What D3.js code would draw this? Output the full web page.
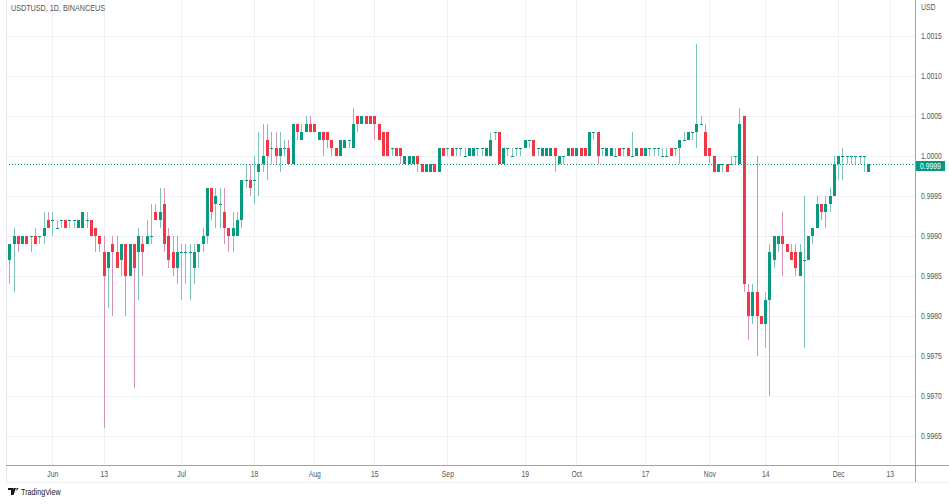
<!DOCTYPE html>
<html><head><meta charset="utf-8">
<script src="https://cdn.jsdelivr.net/npm/d3@7"></script>
<style>
html,body{margin:0;padding:0;background:#fff;}
svg{display:block;}
text{font-family:"Liberation Sans","Arial",sans-serif;}
</style></head>
<body>
<svg id="c" width="949" height="504"></svg>
<script>
// ---------- DATA ----------
const title = "USDTUSD, 1D, BINANCEUS";
const currency = "USD";
const startDate = "2022-05-22"; // first daily candle
const open = [
.9987,.9989,.9990,.9989,.9990,.9990,.9990,.9990,.9990,.9992,
.9992,.9991,.9992,.9992,.9992,.9992,.9991,.9991,.9992,.9992,
.9991,.9990,.9988,.9986,.9989,.9988,.9987,.9989,.9985,.9989,
.9988,.9989,.9989,.9990,.9993,.9992,.9994,.9990,.9988,.9986,
.9988,.9988,.9988,.9986,.9988,.9989,.9990,.9996,.9994,.9994,
.9993,.9991,.9990,.9990,.9992,.9997,.9997,.9997,.9998,.9999,
1.0002,1.0001,1.0001,1.0000,1.0001,1.0001,.9999,1.0004,1.0002,1.0003,
1.0004,1.0004,1.0002,1.0003,1.0003,1.0002,1.0001,1.0000,1.0001,1.0002,
1.0001,1.0005,1.0004,1.0005,1.0005,1.0005,1.0004,1.0003,1.0003,1.0001,
1.0001,1.0001,.9999,.9999,.9999,1.0000,.9999,.9998,.9998,.9999,
.9998,1.0001,1.0001,1.0001,1.0001,1.0001,1.0000,1.0000,1.0000,1.0001,
1.0001,1.0000,1.0000,1.0003,1.0003,.9999,1.0001,1.0000,1.0001,1.0001,
1.0001,1.0002,1.0002,1.0001,1.0000,1.0000,1.0000,1.0001,.9999,1.0000,
1.0000,1.0001,1.0000,1.0001,1.0001,1.0000,1.0003,1.0003,1.0001,1.0000,
1.0000,1.0000,1.0001,1.0001,1.0001,1.0000,1.0000,1.0001,1.0000,1.0001,
1.0001,1.0001,1.0000,1.0000,1.0001,1.0001,1.0001,1.0002,1.0002,1.0003,
1.0003,1.0004,1.0003,1.0001,1.0000,.9998,.9999,.9999,.9999,1.0000,
.9999,1.0005,.9983,.9980,.9983,.9980,.9979,.9982,.9987,.9989,
.9990,.9989,.9988,.9988,.9985,.9987,.9987,.9990,.9991,.9994,
.9993,.9994,.9995,.9999,1.0000,1.0000,1.0000,1.0000,1.0000,1.0000,.9998];
const high = [
.9989,.9991,.9990,.9990,.9990,.9990,.9991,.9990,.9993,.9993,
.9993,.9992,.9992,.9992,.9992,.9992,.9992,.9993,.9993,.9992,
.9991,.9990,.9990,.9988,.9990,.9990,.9989,.9989,.9989,.9989,
.9991,.9990,.9992,.9994,.9994,.9996,.9996,.9991,.9990,.9990,
.9989,.9989,.9989,.9989,.9989,.9991,.9996,.9996,.9996,.9996,
.9996,.9991,.9993,.9993,.9997,.9999,.9999,1.0000,1.0003,1.0004,
1.0004,1.0003,1.0003,1.0003,1.0002,1.0002,1.0004,1.0004,1.0004,1.0005,
1.0005,1.0004,1.0003,1.0003,1.0003,1.0002,1.0001,1.0002,1.0002,1.0002,
1.0006,1.0005,1.0005,1.0005,1.0005,1.0005,1.0004,1.0003,1.0003,1.0001,
1.0001,1.0001,1.0000,1.0000,1.0000,1.0000,.9999,.9999,.9999,.9999,
1.0001,1.0001,1.0001,1.0001,1.0001,1.0001,1.0001,1.0001,1.0001,1.0001,
1.0001,1.0001,1.0003,1.0003,1.0003,1.0001,1.0001,1.0001,1.0001,1.0001,
1.0002,1.0002,1.0002,1.0001,1.0001,1.0001,1.0001,1.0001,1.0000,1.0000,
1.0001,1.0001,1.0001,1.0001,1.0001,1.0003,1.0003,1.0003,1.0001,1.0001,
1.0001,1.0001,1.0001,1.0001,1.0001,1.0003,1.0001,1.0001,1.0001,1.0001,
1.0001,1.0001,1.0001,1.0001,1.0001,1.0001,1.0002,1.0003,1.0003,1.0003,
1.0014,1.0005,1.0004,1.0001,1.0000,.9999,.9999,.9999,1.0000,1.0000,
1.0006,1.0005,.9984,.9984,1.0000,.9980,.9983,.9989,.9990,.9990,
.9993,.9989,.9989,.9989,.9989,.9995,.9990,.9991,.9995,.9994,
.9995,.9996,1.0000,1.0000,1.0001,1.0000,1.0000,1.0000,1.0000,1.0000,.9999];
const low = [
.9984,.9983,.9988,.9989,.9989,.9988,.9989,.9989,.9989,.9991,
.9990,.9991,.9991,.9991,.9991,.9991,.9991,.9991,.9991,.9990,
.9988,.9988,.9966,.9981,.9980,.9986,.9985,.9980,.9985,.9971,
.9982,.9985,.9989,.9989,.9992,.9991,.9988,.9986,.9985,.9984,
.9982,.9984,.9982,.9984,.9986,.9988,.9989,.9992,.9991,.9991,
.9989,.9988,.9988,.9990,.9991,.9996,.9995,.9994,.9995,.9998,
.9997,.9999,.9999,.9998,1.0000,.9999,.9999,1.0002,1.0002,1.0003,
1.0003,1.0003,1.0002,1.0000,1.0001,1.0000,1.0000,1.0000,1.0001,1.0001,
1.0001,1.0003,1.0004,1.0004,1.0004,1.0002,1.0002,1.0000,1.0000,1.0000,
1.0000,.9999,.9999,.9999,.9999,.9998,.9998,.9998,.9998,.9998,
.9998,1.0000,1.0000,1.0000,1.0000,1.0000,1.0000,1.0000,1.0000,1.0000,
1.0000,1.0000,1.0000,1.0002,.9999,.9999,1.0000,1.0000,1.0000,1.0000,
1.0001,1.0001,1.0000,1.0000,1.0000,1.0000,1.0000,.9998,.9999,.9999,
1.0000,1.0000,1.0000,1.0000,1.0000,1.0000,1.0002,.9999,1.0000,1.0000,
1.0000,1.0000,1.0000,1.0000,1.0000,1.0000,1.0000,1.0000,1.0000,1.0000,
1.0000,1.0000,1.0000,1.0000,1.0000,1.0000,.9999,1.0002,1.0002,1.0002,
1.0001,1.0004,1.0000,.9999,.9998,.9998,.9998,.9998,.9999,.9999,
.9999,.9983,.9977,.9979,.9975,.9979,.9976,.9970,.9986,.9988,
.9985,.9988,.9987,.9985,.9985,.9976,.9987,.9989,.9991,.9992,
.9991,.9993,.9995,.9997,.9997,.9999,.9999,.9999,.9999,.9998,.9998];
const close = [
.9989,.9990,.9989,.9990,.9989,.9990,.9989,.9990,.9991,.9991,
.9992,.9991,.9992,.9991,.9992,.9992,.9992,.9993,.9992,.9990,
.9990,.9989,.9985,.9988,.9988,.9986,.9989,.9985,.9989,.9986,
.9990,.9988,.9990,.9990,.9992,.9993,.9989,.9987,.9986,.9988,
.9988,.9988,.9988,.9988,.9989,.9990,.9996,.9993,.9995,.9994,
.9991,.9990,.9991,.9992,.9997,.9997,.9996,.9997,.9999,1.0000,
1.0000,1.0001,1.0000,1.0001,1.0001,.9999,1.0004,1.0003,1.0003,1.0004,
1.0003,1.0003,1.0003,1.0002,1.0002,1.0001,1.0000,1.0002,1.0002,1.0002,
1.0004,1.0004,1.0005,1.0004,1.0004,1.0004,1.0002,1.0000,1.0000,1.0001,
1.0000,1.0000,1.0000,1.0000,1.0000,.9999,.9998,.9999,.9999,.9998,
1.0001,1.0000,1.0001,1.0000,1.0001,1.0001,1.0000,1.0001,1.0001,1.0001,
1.0001,1.0001,1.0002,1.0003,.9999,1.0001,1.0001,1.0000,1.0001,1.0001,
1.0002,1.0002,1.0000,1.0001,1.0001,1.0001,1.0001,1.0000,1.0000,1.0000,
1.0001,1.0000,1.0001,1.0000,1.0000,1.0003,1.0003,1.0000,1.0001,1.0001,
1.0001,1.0000,1.0000,1.0001,1.0000,1.0000,1.0001,1.0000,1.0001,1.0001,
1.0001,1.0001,1.0000,1.0000,1.0000,1.0001,1.0002,1.0002,1.0003,1.0003,
1.0004,1.0004,1.0000,1.0000,.9998,.9999,.9999,.9998,.9999,1.0000,
1.0004,.9984,.9980,.9983,.9980,.9979,.9982,.9988,.9990,.9990,
.9989,.9988,.9987,.9986,.9988,.9987,.9990,.9991,.9994,.9993,
.9994,.9995,.9999,1.0000,1.0000,1.0000,1.0000,1.0000,1.0000,1.0000,.9999];
const timeTickDates  = ["2022-06-01","2022-06-13","2022-07-01","2022-07-18","2022-08-01","2022-08-15","2022-09-01","2022-09-19","2022-10-01","2022-10-17","2022-11-01","2022-11-14","2022-12-01","2022-12-13"];
const timeTickLabels = ["Jun","13","Jul","18","Aug","15","Sep","19","Oct","17","Nov","14","Dec","13"];
const priceTicks = [0.9965,0.9970,0.9975,0.9980,0.9985,0.9990,0.9995,1.0000,1.0005,1.0010,1.0015];

// ---------- LAYOUT ----------
const W = 949, H = 504;
const plotL = 6, plotR = 915, plotT = 0, plotB = 465, axisB = 482;
const UP = "#089981", DN = "#f23645";
const UPW = "#7fc4b9", DNW = "#d892b6";
const SQUEEZE = 0.8; // condensed look of the reference font
const parse = d3.utcParse("%Y-%m-%d");
const t0 = parse(startDate);
const dates = open.map((_, i) => d3.utcDay.offset(t0, i));

const x = d3.scaleUtc()
  .domain([t0, parse("2022-12-01")])
  .range([9.3, 838.2]);
const y = d3.scaleLinear().domain([0.9965, 1.0015]).range([436, 36]);

const svg = d3.select("#c");
svg.append("rect").attr("width", W).attr("height", H).attr("fill", "#fff");

// grid
const grid = svg.append("g");
grid.selectAll("line.h").data(priceTicks).join("line")
  .attr("x1", plotL).attr("x2", plotR)
  .attr("y1", d => Math.round(y(d)) + 0.5).attr("y2", d => Math.round(y(d)) + 0.5)
  .attr("stroke", "#eef1f6").attr("stroke-width", 1);
grid.selectAll("line.v").data(timeTickDates).join("line")
  .attr("x1", d => Math.round(x(parse(d))) + 0.5).attr("x2", d => Math.round(x(parse(d))) + 0.5)
  .attr("y1", plotT).attr("y2", plotB)
  .attr("stroke", "#eef1f6").attr("stroke-width", 1);

// candles
const cg = svg.append("g");
const data = dates.map((d, i) => ({d, o: open[i], h: high[i], l: low[i], c: close[i]}));
const cx = d => Math.round(x(d.d));
cg.selectAll("rect.w").data(data).join("rect")
  .attr("x", d => cx(d)).attr("width", 1)
  .attr("y", d => Math.round(y(d.h)))
  .attr("height", d => Math.max(1, Math.round(y(d.l)) - Math.round(y(d.h))))
  .attr("fill", d => d.c >= d.o ? UPW : DNW);
cg.selectAll("rect.b").data(data).join("rect")
  .attr("x", d => cx(d) - 1).attr("width", 3)
  .attr("y", d => Math.round(y(Math.max(d.o, d.c))))
  .attr("height", d => Math.max(1, Math.round(y(Math.min(d.o, d.c))) - Math.round(y(Math.max(d.o, d.c)))))
  .attr("fill", d => d.c >= d.o ? UP : DN);

// last price dotted line
const last = close[close.length - 1];
const lastUp = close[close.length - 1] >= open[open.length - 1];
svg.append("line")
  .attr("x1", plotL).attr("x2", plotR)
  .attr("y1", Math.round(y(last)) + 0.5).attr("y2", Math.round(y(last)) + 0.5)
  .attr("stroke", lastUp ? UP : DN).attr("stroke-width", 1).attr("stroke-dasharray", "1,2");

// frame / axes lines
svg.append("line").attr("x1", plotL + 0.5).attr("x2", plotL + 0.5).attr("y1", 0).attr("y2", axisB)
  .attr("stroke", "#e6e8ee");
svg.append("line").attr("x1", plotL).attr("x2", W).attr("y1", plotB + 0.5).attr("y2", plotB + 0.5)
  .attr("stroke", "#9fa2aa");
svg.append("line").attr("x1", plotR + 0.5).attr("x2", plotR + 0.5).attr("y1", 0).attr("y2", axisB)
  .attr("stroke", "#9fa2aa");
svg.append("line").attr("x1", plotL).attr("x2", W).attr("y1", axisB + 0.5).attr("y2", axisB + 0.5)
  .attr("stroke", "#eceef2");

// price axis
const pa = svg.append("g").attr("class", "sq").attr("transform", `translate(${plotR},0)`);
const yAxis = d3.axisRight(y).tickValues(priceTicks).tickSize(0).tickPadding(6)
  .tickFormat(d3.format(".4f"));
pa.call(yAxis);
pa.select(".domain").remove();
pa.selectAll("text").attr("fill", "#555").attr("font-size", 8.5).attr("font-family", null);
svg.append("text").attr("class", "sq").attr("x", 921).attr("y", 9.5).attr("font-size", 8.5)
  .attr("fill", "#555").text(currency);

// last price label
const ly = Math.round(y(last));
svg.append("rect").attr("x", plotR + 1).attr("y", ly - 3).attr("width", 29).attr("height", 10)
  .attr("fill", lastUp ? UP : DN);
svg.append("text").attr("class", "sq").attr("x", plotR + 5).attr("y", ly + 5).attr("font-size", 8.5)
  .attr("fill", "#fff").text(d3.format(".4f")(last));

// time axis
const ta = svg.append("g").attr("transform", `translate(0,${plotB})`);
const xAxis = d3.axisBottom(x).tickValues(timeTickDates.map(parse)).tickSize(0).tickPadding(6)
  .tickFormat((d, i) => timeTickLabels[i]);
ta.call(xAxis);
ta.select(".domain").remove();
ta.selectAll("text").attr("class", "sq").attr("fill", "#555").attr("font-size", 8.5).attr("font-family", null);

// title
svg.append("text").attr("class", "sq").attr("x", 11).attr("y", 10.5).attr("font-size", 9)
  .attr("fill", "#555").text(title);

// TradingView logo
const logo = svg.append("g").attr("transform", "translate(8,488)");
logo.append("path").attr("d", "M0 0h5v7h-2v-5h-3z M5.5 0h2.5l-2.5 7h-1.5z M8.5 0h2l-2 3z").attr("fill", "#131722");
svg.append("text").attr("class", "sq").attr("x", 21).attr("y", 495).attr("font-size", 9)
  .attr("fill", "#131722").text("TradingView");

// condense all text to match the narrow reference font
svg.selectAll("text").each(function() {
  const len = this.getComputedTextLength();
  if (len > 0) {
    d3.select(this).attr("textLength", (len * SQUEEZE).toFixed(1)).attr("lengthAdjust", "spacingAndGlyphs");
  }
});
</script>
</body></html>
